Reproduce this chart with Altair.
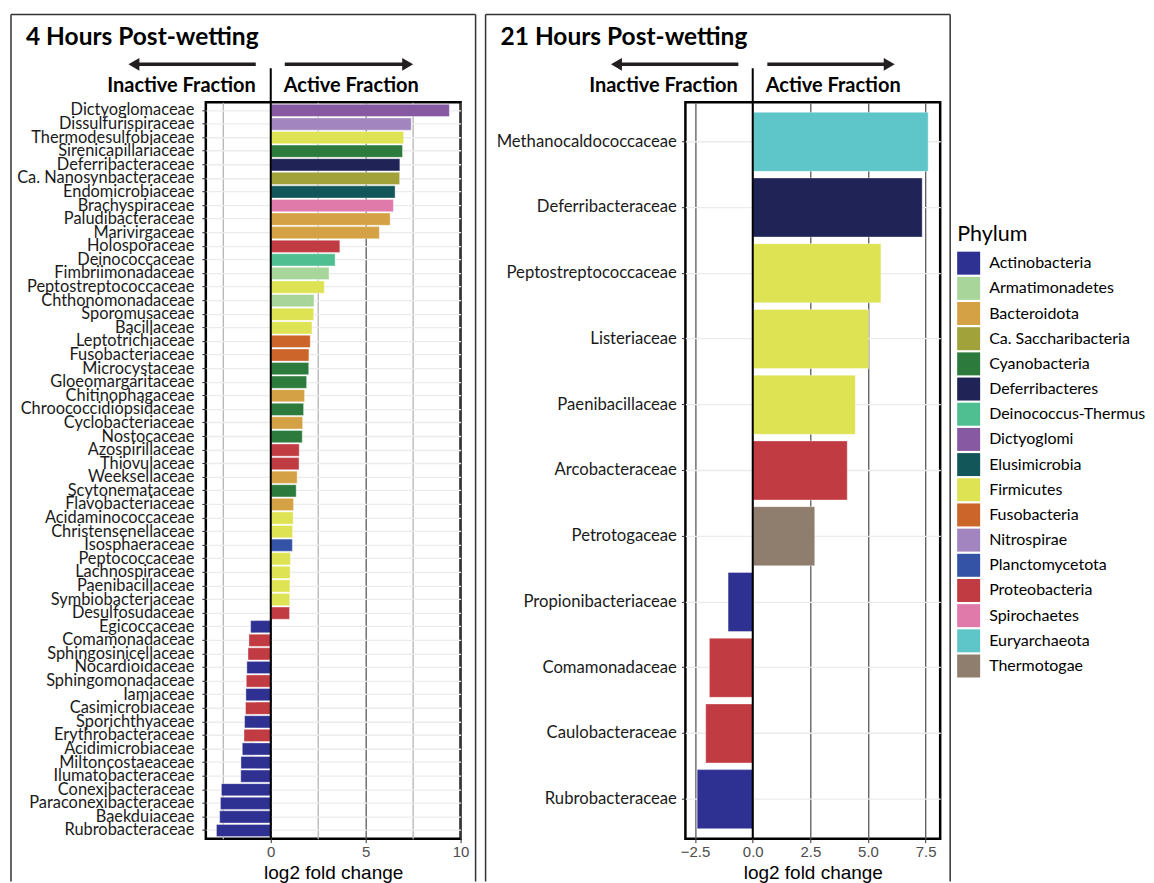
import altair as alt
import pandas as pd

# ---------------- data ----------------
left_families = [
    "Dictyoglomaceae", "Dissulfurispiraceae", "Thermodesulfobiaceae", "Sirenicapillariaceae",
    "Deferribacteraceae", "Ca. Nanosynbacteraceae", "Endomicrobiaceae", "Brachyspiraceae",
    "Paludibacteraceae", "Marivirgaceae", "Holosporaceae", "Deinococcaceae",
    "Fimbriimonadaceae", "Peptostreptococcaceae", "Chthonomonadaceae", "Sporomusaceae",
    "Bacillaceae", "Leptotrichiaceae", "Fusobacteriaceae", "Microcystaceae",
    "Gloeomargaritaceae", "Chitinophagaceae", "Chroococcidiopsidaceae", "Cyclobacteriaceae",
    "Nostocaceae", "Azospirillaceae", "Thiovulaceae", "Weeksellaceae",
    "Scytonemataceae", "Flavobacteriaceae", "Acidaminococcaceae", "Christensenellaceae",
    "Isosphaeraceae", "Peptococcaceae", "Lachnospiraceae", "Paenibacillaceae",
    "Symbiobacteriaceae", "Desulfosudaceae", "Egicoccaceae", "Comamonadaceae",
    "Sphingosinicellaceae", "Nocardioidaceae", "Sphingomonadaceae", "Iamiaceae",
    "Casimicrobiaceae", "Sporichthyaceae", "Erythrobacteraceae", "Acidimicrobiaceae",
    "Miltoncostaeaceae", "Ilumatobacteraceae", "Conexibacteraceae", "Paraconexibacteraceae",
    "Baekduiaceae", "Rubrobacteraceae",
]
left_values = [
    9.41, 7.40, 7.00, 6.94, 6.80, 6.79, 6.55, 6.46, 6.29, 5.72,
    3.64, 3.39, 3.07, 2.82, 2.28, 2.26, 2.17, 2.08, 2.01, 2.00,
    1.89, 1.78, 1.73, 1.68, 1.66, 1.50, 1.49, 1.39, 1.34, 1.20,
    1.18, 1.15, 1.14, 1.04, 1.02, 1.01, 1.00, 0.99,
    -1.06, -1.15, -1.20, -1.26, -1.29, -1.31, -1.33, -1.38, -1.41, -1.50,
    -1.57, -1.58, -2.60, -2.65, -2.69, -2.86,
]
left_phyla = [
    "Dictyoglomi", "Nitrospirae", "Firmicutes", "Cyanobacteria",
    "Deferribacteres", "Ca. Saccharibacteria", "Elusimicrobia", "Spirochaetes",
    "Bacteroidota", "Bacteroidota", "Proteobacteria", "Deinococcus-Thermus",
    "Armatimonadetes", "Firmicutes", "Armatimonadetes", "Firmicutes",
    "Firmicutes", "Fusobacteria", "Fusobacteria", "Cyanobacteria",
    "Cyanobacteria", "Bacteroidota", "Cyanobacteria", "Bacteroidota",
    "Cyanobacteria", "Proteobacteria", "Proteobacteria", "Bacteroidota",
    "Cyanobacteria", "Bacteroidota", "Firmicutes", "Firmicutes",
    "Planctomycetota", "Firmicutes", "Firmicutes", "Firmicutes",
    "Firmicutes", "Proteobacteria", "Actinobacteria", "Proteobacteria",
    "Proteobacteria", "Actinobacteria", "Proteobacteria", "Actinobacteria",
    "Proteobacteria", "Actinobacteria", "Proteobacteria", "Actinobacteria",
    "Actinobacteria", "Actinobacteria", "Actinobacteria", "Actinobacteria",
    "Actinobacteria", "Actinobacteria",
]

right_families = [
    "Methanocaldococcaceae", "Deferribacteraceae", "Peptostreptococcaceae", "Listeriaceae",
    "Paenibacillaceae", "Arcobacteraceae", "Petrotogaceae", "Propionibacteriaceae",
    "Comamonadaceae", "Caulobacteraceae", "Rubrobacteraceae",
]
right_values = [7.61, 7.35, 5.56, 5.03, 4.45, 4.10, 2.69, -1.07, -1.88, -2.04, -2.41]
right_phyla = [
    "Euryarchaeota", "Deferribacteres", "Firmicutes", "Firmicutes",
    "Firmicutes", "Proteobacteria", "Thermotogae", "Actinobacteria",
    "Proteobacteria", "Proteobacteria", "Actinobacteria",
]

phylum_order = [
    "Actinobacteria", "Armatimonadetes", "Bacteroidota", "Ca. Saccharibacteria",
    "Cyanobacteria", "Deferribacteres", "Deinococcus-Thermus", "Dictyoglomi",
    "Elusimicrobia", "Firmicutes", "Fusobacteria", "Nitrospirae",
    "Planctomycetota", "Proteobacteria", "Spirochaetes", "Euryarchaeota", "Thermotogae",
]
phylum_colors = [
    "#2E3192", "#A8D59A", "#D4A144", "#A1A23A",
    "#2C7A3C", "#1F2356", "#4FBF91", "#8759A3",
    "#12565A", "#DDE352", "#CB652A", "#A285BF",
    "#3453A6", "#C13B42", "#DF7AAA", "#5EC6C8", "#8F7D6E",
]

left_ticks = [-2.5, 0, 2.5, 5, 7.5, 10]
right_ticks = [-2.5, -1.25, 0, 1.25, 2.5, 3.75, 5, 6.25, 7.5]
left_domain = [-3.42, 10.0]
right_domain = [-2.92, 8.13]

PLOT_W = 255
PLOT_H = 737
INK = "#231f20"
one = pd.DataFrame({"k": [0]})


def panel(fams, vals, phyla, domain, ticks, major_step, fmt, title, geo, legend):
    df = pd.DataFrame({"family": fams, "lfc": vals, "phylum": phyla})
    major = f"abs(datum.value % {major_step}) < 1e-6"
    xaxis = alt.Axis(
        values=ticks, format=fmt, title="log2 fold change",
        titleFont="Liberation Sans", titleFontSize=19, titleFontWeight="normal",
        titleColor="black", titlePadding=4,
        labelFont="Liberation Sans", labelFontSize=15, labelColor="#4d4d4d",
        labelExpr=f"{major} ? datum.label : ''", labelOverlap=False, labelFlush=False,
        labelPadding=2,
        tickSize=4, tickColor="#333333",
        tickOpacity={"condition": {"test": major, "value": 1}, "value": 0},
        grid=True,
        gridColor={"condition": {"test": major, "value": "#5a5a5a"}, "value": "#b5b5b5"},
        gridWidth=1.3, domain=False,
    )
    yaxis = alt.Axis(
        title=None, labelFont="Lato", labelFontSize=geo["lsize"], labelColor="#1a1a1a",
        labelOverlap=False, labelLimit=400, labelPadding=geo["lpad"],
        tickSize=4, tickColor="#333333", tickBand="center",
        grid=True, gridColor="#ebebeb", gridWidth=1.3, domain=False,
    )
    bars = alt.Chart(df).mark_bar(stroke="white", strokeWidth=0.4).encode(
        x=alt.X("lfc:Q", scale=alt.Scale(domain=domain, nice=False, zero=False), axis=xaxis),
        x2=alt.datum(0),
        y=alt.Y("family:N", sort=fams,
                scale=alt.Scale(paddingInner=0.1, paddingOuter=0.15), axis=yaxis),
        color=alt.Color("phylum:N",
                        scale=alt.Scale(domain=phylum_order, range=phylum_colors),
                        legend=legend),
    )
    zero = alt.Chart(one).mark_rule(color="black", strokeWidth=2).encode(
        x=alt.datum(0), y=alt.value(-34), y2=alt.value(PLOT_H)
    )
    bx0, bx1 = geo["box"]
    top, bottom = -88, 780
    frame = [
        alt.Chart(one).mark_rule(color="#333333", strokeWidth=1.5).encode(
            x=alt.value(bx0), y=alt.value(top), y2=alt.value(bottom)),
        alt.Chart(one).mark_rule(color="#333333", strokeWidth=1.5).encode(
            x=alt.value(bx1), y=alt.value(top), y2=alt.value(bottom)),
        alt.Chart(one).mark_rule(color="#333333", strokeWidth=1.5).encode(
            x=alt.value(bx0), x2=alt.value(bx1), y=alt.value(top)),
    ]
    ttl = alt.Chart(one).mark_text(
        text=title, font="Lato", fontSize=24.5, fontWeight="bold", color="black",
        align="left", baseline="alphabetic",
    ).encode(x=alt.value(geo["title_x"]), y=alt.value(-57))
    inactive = alt.Chart(one).mark_text(
        text="Inactive Fraction", font="Lato", fontSize=20, fontWeight="bold",
        color="black", align="right", baseline="alphabetic", dx=-15,
    ).encode(x=alt.datum(0), y=alt.value(-10))
    active = alt.Chart(one).mark_text(
        text="Active Fraction", font="Lato", fontSize=20, fontWeight="bold",
        color="black", align="left", baseline="alphabetic", dx=13,
    ).encode(x=alt.datum(0), y=alt.value(-10))
    la0, la1, ra0, ra1 = geo["arrows"]
    arrows = [
        alt.Chart(one).mark_rule(color=INK, strokeWidth=3.5).encode(
            x=alt.value(la0 + 6), x2=alt.value(la1), y=alt.value(-38)),
        alt.Chart(one).mark_rule(color=INK, strokeWidth=3.5).encode(
            x=alt.value(ra0), x2=alt.value(ra1 - 6), y=alt.value(-38)),
        alt.Chart(one).mark_point(shape="triangle-left", filled=True, size=160,
                                  color=INK, opacity=1).encode(
            x=alt.value(la0 + 5), y=alt.value(-38)),
        alt.Chart(one).mark_point(shape="triangle-right", filled=True, size=160,
                                  color=INK, opacity=1).encode(
            x=alt.value(ra1 - 5), y=alt.value(-38)),
    ]
    return alt.layer(bars, zero, *frame, ttl, inactive, active, *arrows).properties(
        width=PLOT_W, height=PLOT_H
    )


legend = alt.Legend(
    title="Phylum", orient="none", legendX=752, legendY=122,
    titleFont="Lato", titleFontSize=21.5, titleFontWeight="normal", titleColor="black",
    titlePadding=6, labelFont="Lato", labelFontSize=16, labelColor="black",
    labelLimit=250, labelOffset=9, symbolType="square", symbolSize=529,
    symbolStrokeWidth=0, symbolOpacity=1, rowPadding=2.2,
)

left = panel(left_families, left_values, left_phyla, left_domain, left_ticks, 5, "d",
             "4 Hours Post-wetting",
             {"box": [-195, 270], "title_x": -180, "arrows": [-77, 50, 79, 207],
              "lpad": 8, "lsize": 16.4},
             legend)
right = panel(right_families, right_values, right_phyla, right_domain, right_ticks, 2.5, ".1f",
              "21 Hours Post-wetting",
              {"box": [-200, 265], "title_x": -185, "arrows": [-74, 53, 82, 209],
               "lpad": 5, "lsize": 16.7},
              None)

chart = (
    alt.hconcat(left, right, spacing=6)
    .resolve_scale(color="shared")
    .properties(padding={"left": 1, "top": 4, "right": 0, "bottom": 0})
    .configure_view(stroke="black", strokeWidth=2.5)
)

chart.save("out.html", embed_options={"renderer": "svg", "actions": False})
